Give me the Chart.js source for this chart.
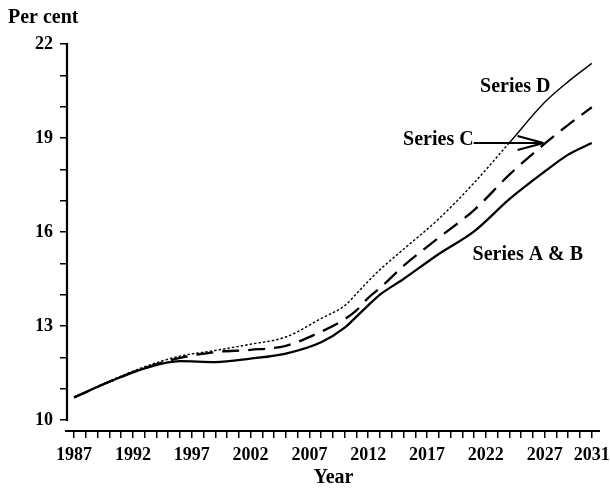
<!DOCTYPE html>
<html>
<head>
<meta charset="utf-8">
<script src="https://cdn.jsdelivr.net/npm/chart.js@4"></script>
<style>
  html, body { margin: 0; padding: 0; background: #ffffff; }
  #wrap { width: 610px; height: 492px; position: relative; }
</style>
</head>
<body>
<div id="wrap"><canvas id="c" width="610" height="492"></canvas></div>
<script>
// ---- data ----
const years    = [1987, 1990, 1993, 1996, 1999, 2002, 2005, 2008, 2010, 2011, 2012, 2013, 2015, 2018, 2021, 2024, 2027, 2029, 2031];
const seriesAB = [10.72, 11.22, 11.65, 11.88, 11.85, 11.96, 12.12, 12.48, 12.95, 13.30, 13.66, 14.00, 14.50, 15.30, 16.02, 17.05, 17.93, 18.47, 18.84];
const seriesC  = [10.72, 11.22, 11.66, 11.98, 12.17, 12.24, 12.37, 12.82, 13.22, 13.50, 13.90, 14.21, 14.92, 15.82, 16.70, 17.83, 18.82, 19.42, 19.98];
const seriesD  = [10.72, 11.24, 11.70, 12.04, 12.22, 12.42, 12.65, 13.24, 13.65, 14.03, 14.43, 14.80, 15.45, 16.42, 17.57, 18.85, 20.14, 20.80, 21.38];

const xLabelYears = [1987, 1992, 1997, 2002, 2007, 2012, 2017, 2022, 2027, 2031];
const yLabelValues = [10, 13, 16, 19, 22];

// annotation texts (data coordinates)
const noteTexts  = ['Series D', 'Series C', 'Series A & B'];
const noteYears  = [2024.5, 2020.96, 2020.87];
const noteValues = [20.63, 18.95, 15.27];
const noteAlign  = ['center', 'right', 'left'];
const arrowFrom  = [2020.96, 18.84];
const arrowTo    = [2026.9, 18.84];

const SERIF = '"Liberation Serif", "Times New Roman", serif';

function pts(vals) { return years.map((y, i) => ({ x: y, y: vals[i] })); }

const axesPlugin = {
  id: 'axesLines',
  afterDraw(chart) {
    const { ctx, chartArea, scales: { x, y } } = chart;
    ctx.save();
    ctx.strokeStyle = '#000';
    ctx.lineWidth = 2.2;
    ctx.beginPath();
    ctx.moveTo(chartArea.left, y.getPixelForValue(22) - 1);
    ctx.lineTo(chartArea.left, y.getPixelForValue(10) + 1);
    ctx.stroke();
    ctx.beginPath();
    ctx.moveTo(chartArea.left - 2, chartArea.bottom);
    ctx.lineTo(chartArea.right, chartArea.bottom);
    ctx.stroke();
    ctx.restore();
  }
};

const notesPlugin = {
  id: 'notes',
  afterDatasetsDraw(chart) {
    const { ctx, scales: { x, y } } = chart;
    ctx.save();
    ctx.fillStyle = '#000';
    ctx.font = 'bold 20px ' + SERIF;
    ctx.textBaseline = 'middle';
    noteTexts.forEach((t, i) => {
      ctx.textAlign = noteAlign[i];
      ctx.fillText(t, x.getPixelForValue(noteYears[i]), y.getPixelForValue(noteValues[i]));
    });
    // arrow
    const x0 = x.getPixelForValue(arrowFrom[0]), y0 = y.getPixelForValue(arrowFrom[1]);
    const x1 = x.getPixelForValue(arrowTo[0]),   y1 = y.getPixelForValue(arrowTo[1]);
    ctx.strokeStyle = '#000';
    ctx.lineWidth = 2;
    ctx.beginPath();
    ctx.moveTo(x0, y0); ctx.lineTo(x1, y1);
    ctx.moveTo(x1 - 26, y1 - 7); ctx.lineTo(x1, y1);
    ctx.moveTo(x1 - 26, y1 + 7); ctx.lineTo(x1, y1);
    ctx.stroke();
    ctx.restore();
  }
};

new Chart(document.getElementById('c'), {
  type: 'line',
  data: {
    datasets: [
      {
        label: 'Series A & B',
        data: pts(seriesAB),
        borderColor: '#000',
        borderWidth: 2.3,
        pointRadius: 0,
        cubicInterpolationMode: 'monotone',
        fill: false
      },
      {
        label: 'Series C',
        data: pts(seriesC),
        borderColor: '#000',
        borderWidth: 2.3,
        borderDash: [17, 9],
        pointRadius: 0,
        cubicInterpolationMode: 'monotone',
        fill: false
      },
      {
        label: 'Series D',
        data: pts(seriesD),
        borderColor: '#000',
        borderWidth: 1.4,
        borderDash: [2.5, 2],
        segment: {
          borderDash: ctx => ctx.p0.parsed.x >= 2024 ? [] : [2.5, 2]
        },
        pointRadius: 0,
        cubicInterpolationMode: 'monotone',
        fill: false
      }
    ]
  },
  options: {
    responsive: false,
    animation: false,
    devicePixelRatio: 1,
    layout: { padding: { top: 6, left: 8, right: 10, bottom: 0 } },
    plugins: {
      legend: { display: false },
      tooltip: { enabled: false },
      title: {
        display: true,
        text: 'Per cent',
        align: 'start',
        color: '#000',
        font: { family: SERIF, size: 20, weight: 'bold' },
        padding: { top: 0, bottom: 14 }
      }
    },
    scales: {
      x: {
        type: 'linear',
        min: 1986.4,
        max: 2031.7,
        border: { display: false },
        grid: { drawOnChartArea: false, drawTicks: true, tickLength: 7, color: '#000', lineWidth: 1.5 },
        ticks: {
          stepSize: 1,
          includeBounds: false,
          autoSkip: false,
          maxRotation: 0,
          minRotation: 0,
          padding: 7,
          color: '#000',
          font: { family: SERIF, size: 18, weight: 'bold' },
          callback: v => xLabelYears.includes(v) ? String(v) : ''
        },
        title: {
          display: true,
          text: 'Year',
          color: '#000',
          font: { family: SERIF, size: 20, weight: 'bold' },
          padding: { top: 0, bottom: 2 }
        },
        afterFit(scale) { scale.height = 61; scale.paddingLeft = 0; scale.paddingRight = 0; }
      },
      y: {
        type: 'linear',
        min: 9.65,
        max: 22,
        border: { display: false },
        grid: { drawOnChartArea: false, drawTicks: true, tickLength: 7, color: '#000', lineWidth: 1.5 },
        ticks: {
          stepSize: 1,
          includeBounds: false,
          padding: 7,
          color: '#000',
          font: { family: SERIF, size: 18, weight: 'bold' },
          callback: v => yLabelValues.includes(v) ? String(v) : ''
        },
        afterFit(scale) { scale.width = 59; scale.paddingTop = 0; scale.paddingBottom = 0; }
      }
    }
  },
  plugins: [axesPlugin, notesPlugin]
});
</script>
</body>
</html>
